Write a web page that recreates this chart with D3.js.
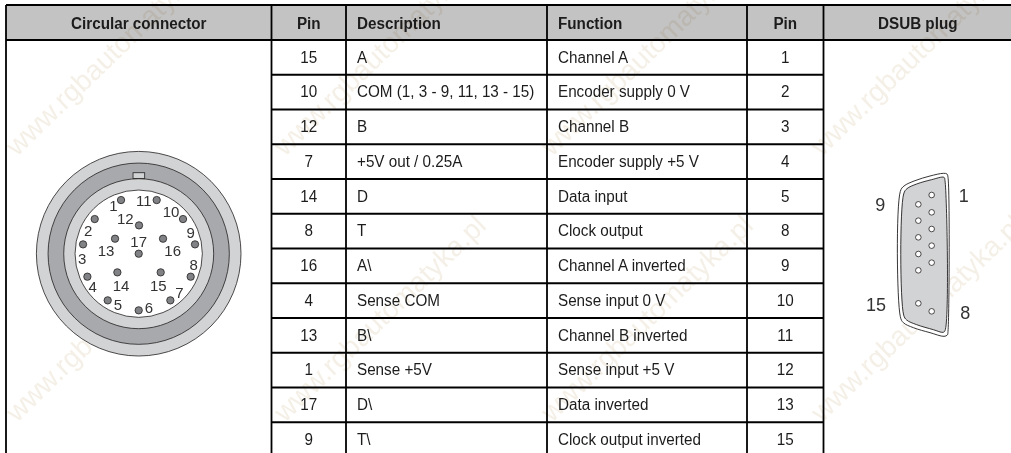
<!DOCTYPE html>
<html>
<head>
<meta charset="utf-8">
<script src="https://cdn.jsdelivr.net/npm/d3@7"></script>
<style>
  html, body { margin: 0; padding: 0; background: #fff; overflow: hidden; }
  text { font-family: "Liberation Sans", sans-serif; fill: #1c1c1c; }
  .diagram { fill: #333; }
</style>
</head>
<body>
<svg id="chart" width="1011" height="453"></svg>
<script>
const headers = ["Circular connector", "Pin", "Description", "Function", "Pin", "DSUB plug"];
const circularPins = ["15", "10", "12", "7", "14", "8", "16", "4", "13", "1", "17", "9"];
const descriptions = ["A", "COM (1, 3 - 9, 11, 13 - 15)", "B", "+5V out / 0.25A", "D", "T", "A\\", "Sense COM", "B\\", "Sense +5V", "D\\", "T\\"];
const functions = ["Channel A", "Encoder supply 0 V", "Channel B", "Encoder supply +5 V", "Data input", "Clock output", "Channel A inverted", "Sense input 0 V", "Channel B inverted", "Sense input +5 V", "Data inverted", "Clock output inverted"];
const dsubPins = ["1", "2", "3", "4", "5", "8", "9", "10", "11", "12", "13", "15"];

// connector drawing (drawing units, centre = 0,0)
const ringRadii = [307, 272, 225, 191];
const ringFills = ["#d1d3d4", "#a7a9ac", "#d1d3d4", "#ffffff"];
const pinIds = ["1", "2", "3", "4", "5", "6", "7", "8", "9", "10", "11", "12", "13", "14", "15", "16", "17"];
const pinX = [-53, -132, -167, -154, -93, 0, 95, 156, 169, 133, 54, 1, -71, -64, 66, 73, 0];
const pinY = [-161, -104, -28, 69, 140, 170, 140, 69, -28, -104, -161, -85, -45, 56, 56, -45, 0];
const pinLabelX = [-76, -152, -170, -138, -62, 31, 122, 165, 156, 97, 15, -40, -98, -53, 59, 102, 0];
const pinLabelY = [-143, -69, 14, 99, 152, 162, 116, 32, -63, -125, -160, -105, -8, 95, 95, -8, -36];

// DSUB plug, same idea (drawing units are zoomed pixels)
const dsubOuter = [[444, 172], [441, 162], [430, 160], [390, 168], [345, 182], [312, 198], [301, 214], [301, 590], [310, 608], [340, 623], [390, 638], [432, 649], [442, 645], [444, 634]];
const dsubInner = [[435, 182], [432, 172], [395, 179], [350, 192], [321, 206], [311, 222], [311, 585], [320, 600], [350, 614], [400, 629], [429, 637], [435, 632]];
const dsubColX = [395, 395, 395, 395, 395, 395, 355, 355, 355, 355, 355, 355];
const dsubColY = [225, 277, 327, 377, 428, 574, 253, 302, 352, 402, 451, 550];
const dsubLabels = ["9", "1", "15", "8"];
const dsubLabelX = [241, 491, 228, 496];
const dsubLabelY = [255, 228, 553, 578];

const watermarkX = [17, 285, 552, 822];
const watermarkY = [157, 423];

const svg = d3.select("#chart");

const col = { left: 6, pin: 271.5, desc: 346, func: 547, pin2: 747, dsub: 823.5, right: 1012 };
const headTop = 5, headBottom = 40, rowH = 34.75;
const y = d3.scaleBand().domain(d3.range(12)).range([headBottom, headBottom + 12 * rowH]);

svg.append("rect").attr("x", col.left).attr("y", headTop)
  .attr("width", col.right - col.left).attr("height", headBottom - headTop).attr("fill", "#c3c3c3");

// watermark is multiplied so it also shows faintly on the grey header
const wm = svg.append("g").style("mix-blend-mode", "multiply");
watermarkY.forEach(wy => watermarkX.forEach(wx => {
  wm.append("text")
    .attr("transform", "translate(" + wx + "," + wy + ") rotate(-44)")
    .style("font-size", "28px")
    .style("fill", "#f5f0e7")
    .text("www.rgbautomatyka.pl");
}));

// grid
const lines = svg.append("g").attr("stroke", "#000").attr("stroke-width", 1.8);
[col.left, col.pin, col.desc, col.func, col.pin2, col.dsub].forEach(x => {
  lines.append("line").attr("x1", x).attr("x2", x).attr("y1", headTop).attr("y2", 453);
});
lines.append("line").attr("x1", col.left).attr("x2", col.right).attr("y1", headTop).attr("y2", headTop);
lines.append("line").attr("x1", col.left).attr("x2", col.right).attr("y1", headBottom).attr("y2", headBottom);
d3.range(1, 12).forEach(i => {
  lines.append("line").attr("x1", col.pin).attr("x2", col.dsub).attr("y1", y(i)).attr("y2", y(i));
});

// the original face is a bit narrower than Liberation Sans
const squeeze = 0.952;

// header text
const headX = [(col.left + col.pin) / 2, (col.pin + col.desc) / 2, col.desc + 11, col.func + 11, (col.pin2 + col.dsub) / 2, (col.dsub + col.right) / 2];
const headAnchor = ["middle", "middle", "start", "start", "middle", "middle"];
svg.append("g").selectAll("text").data(headers).join("text")
  .attr("transform", (d, i) => "translate(" + headX[i] + ",23) scale(" + squeeze + ",1)")
  .attr("dy", "0.36em")
  .attr("text-anchor", (d, i) => headAnchor[i])
  .style("font-size", "16px")
  .style("font-weight", "bold")
  .text(d => d);

function column(values, x, anchor) {
  svg.append("g").selectAll("text").data(values).join("text")
    .attr("transform", (d, i) => "translate(" + x + "," + (y(i) + y.bandwidth() / 2 - 0.5) + ") scale(" + squeeze + ",1)")
    .attr("dy", "0.36em")
    .attr("text-anchor", anchor)
    .style("font-size", "16px")
    .text(d => d);
}
column(circularPins, (col.pin + col.desc) / 2, "middle");
column(descriptions, col.desc + 11, "start");
column(functions, col.func + 11, "start");
column(dsubPins, (col.pin2 + col.dsub) / 2, "middle");

// circular connector
const cx = d3.scaleLinear().domain([-307, 307]).range([138.7 - 102.3, 138.7 + 102.3]);
const cy = d3.scaleLinear().domain([-307, 307]).range([253.7 - 102.3, 253.7 + 102.3]);
const cr = d3.scaleLinear().domain([0, 307]).range([0, 102.3]);
const circ = svg.append("g");
circ.selectAll("circle.ring").data(ringRadii).join("circle")
  .attr("class", "ring")
  .attr("cx", cx(0)).attr("cy", cy(0)).attr("r", d => cr(d))
  .attr("fill", (d, i) => ringFills[i])
  .attr("stroke", "#231f20").attr("stroke-width", 0.8);
circ.append("rect")
  .attr("x", cx(-17)).attr("y", cy(-243)).attr("width", cr(35)).attr("height", cr(17))
  .attr("fill", "#d1d3d4").attr("stroke", "#231f20").attr("stroke-width", 0.8);
circ.selectAll("circle.pin").data(pinIds).join("circle")
  .attr("class", "pin")
  .attr("cx", (d, i) => cx(pinX[i])).attr("cy", (d, i) => cy(pinY[i])).attr("r", cr(11))
  .attr("fill", "#808285").attr("stroke", "#231f20").attr("stroke-width", 0.8);
circ.selectAll("text").data(pinIds).join("text")
  .attr("class", "diagram")
  .attr("x", (d, i) => cx(pinLabelX[i])).attr("y", (d, i) => cy(pinLabelY[i]))
  .attr("dy", "0.36em").attr("text-anchor", "middle")
  .style("font-size", "15px")
  .text(d => d);

// DSUB plug
const dx = d3.scaleLinear().domain([0, 633]).range([800, 1011]);
const dy = d3.scaleLinear().domain([0, 660]).range([120, 340]);
const outline = d3.line().x(d => dx(d[0])).y(d => dy(d[1])).curve(d3.curveCatmullRomClosed.alpha(0.5));
const plug = svg.append("g");
plug.append("path").attr("d", outline(dsubOuter)).attr("fill", "#fff").attr("stroke", "#231f20").attr("stroke-width", 0.9);
plug.append("path").attr("d", outline(dsubInner)).attr("fill", "#d1d3d4").attr("stroke", "#231f20").attr("stroke-width", 0.9);
plug.selectAll("circle").data(dsubColX).join("circle")
  .attr("cx", d => dx(d)).attr("cy", (d, i) => dy(dsubColY[i])).attr("r", 2.8)
  .attr("fill", "#fff").attr("stroke", "#231f20").attr("stroke-width", 0.8);
plug.selectAll("text").data(dsubLabels).join("text")
  .attr("class", "diagram")
  .attr("x", (d, i) => dx(dsubLabelX[i])).attr("y", (d, i) => dy(dsubLabelY[i]))
  .attr("dy", "0.36em").attr("text-anchor", "middle")
  .style("font-size", "18px")
  .text(d => d);
</script>
</body>
</html>
